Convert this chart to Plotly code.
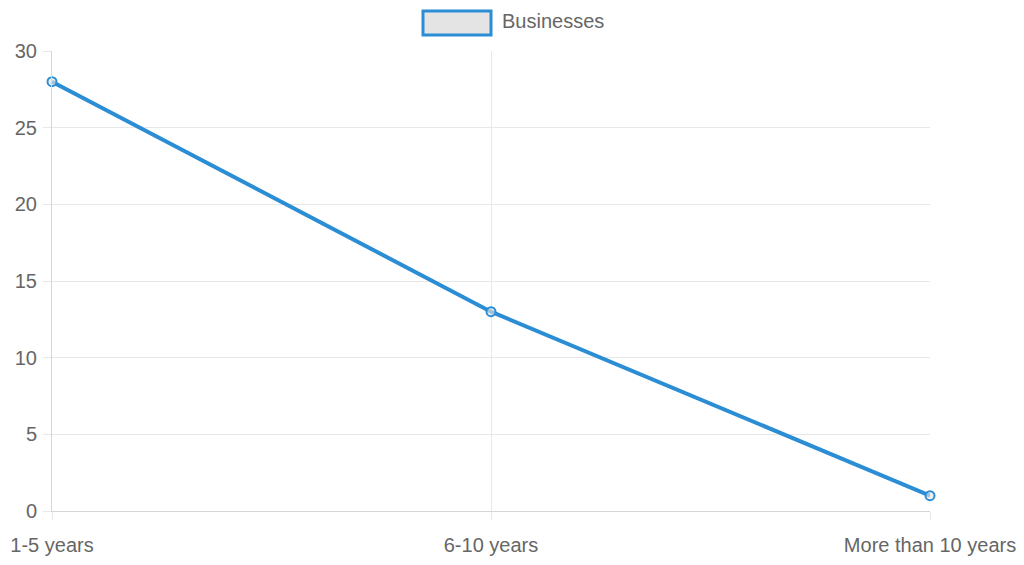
import plotly.graph_objects as go

# Business age groups and counts
categories = ["1-5 years", "6-10 years", "More than 10 years"]
businesses = [28, 13, 1]
y_ticks = [0, 5, 10, 15, 20, 25, 30]

LINE = "#2b8dd4"
TEXT = "#666666"
GRID = "#e8e8e8"
AXIS = "#d6d6d6"
FONT = "Liberation Sans, Arial, sans-serif"
FS = 20

x_pos = list(range(len(categories)))

fig = go.Figure()
fig.add_trace(go.Scatter(
    x=x_pos,
    y=businesses,
    mode="lines+markers",
    name="Businesses",
    line=dict(color=LINE, width=4),
    marker=dict(size=9, color="rgba(230,230,230,0.6)", line=dict(color=LINE, width=2)),
    cliponaxis=False,
    showlegend=False,
))

W, H = 1024, 565
L, R, T, B = 52, 94, 51, 54

fig.update_layout(
    width=W, height=H,
    margin=dict(l=L, r=R, t=T, b=B),
    paper_bgcolor="white",
    plot_bgcolor="white",
    font=dict(family=FONT, size=FS, color=TEXT),
    xaxis=dict(
        range=[0, len(categories) - 1],
        tickvals=x_pos,
        ticktext=categories,
        showgrid=True, gridcolor=GRID, gridwidth=1,
        showline=True, linecolor=AXIS, linewidth=1,
        ticks="outside", ticklen=8, tickcolor=GRID,
        zeroline=False,
        tickfont=dict(size=FS, color=TEXT),
        ticklabelstandoff=8,
        automargin=False,
    ),
    yaxis=dict(
        range=[0, 30],
        tickvals=y_ticks,
        showgrid=True, gridcolor=GRID, gridwidth=1,
        showline=True, linecolor=AXIS, linewidth=1,
        ticks="outside", ticklen=8, tickcolor=GRID,
        zeroline=False,
        tickfont=dict(size=FS, color=TEXT),
        ticklabelstandoff=2,
        automargin=False,
    ),
)

# Legend swatch and label at the top centre
fig.add_shape(
    type="rect", xref="paper", yref="paper",
    x0=(423 - L) / (W - L - R), x1=(491 - L) / (W - L - R),
    y0=(H - B - 35) / (H - T - B), y1=(H - B - 11) / (H - T - B),
    line=dict(color=LINE, width=3), fillcolor="#e4e4e4",
)
fig.add_annotation(
    xref="paper", yref="paper",
    x=(500 - L) / (W - L - R), y=(H - B - 21) / (H - T - B),
    xanchor="left", yanchor="middle",
    text="Businesses", showarrow=False,
    font=dict(family=FONT, size=FS, color=TEXT),
)

fig.write_html("out.html")
